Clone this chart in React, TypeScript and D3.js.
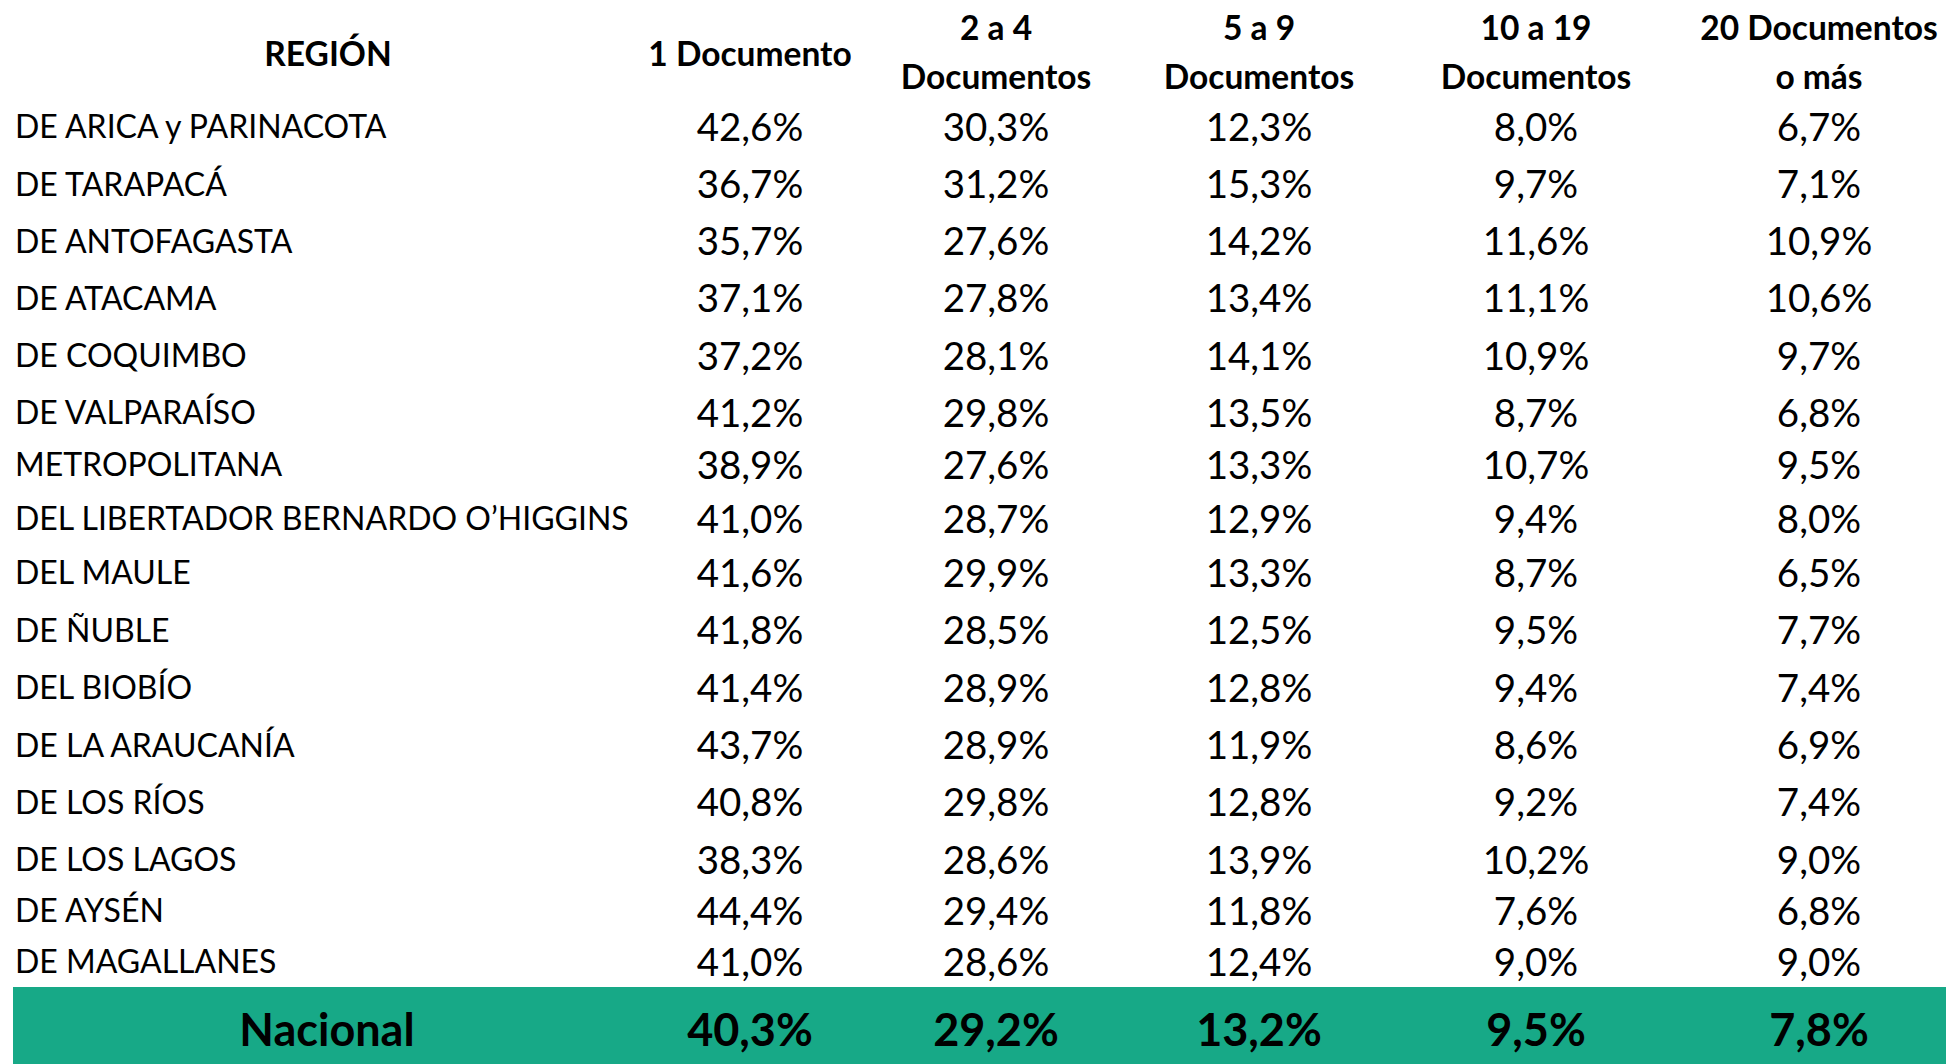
import React from "react";
import * as d3 from "d3";

const regions = [
  "DE ARICA y PARINACOTA",
  "DE TARAPACÁ",
  "DE ANTOFAGASTA",
  "DE ATACAMA",
  "DE COQUIMBO",
  "DE VALPARAÍSO",
  "METROPOLITANA",
  "DEL LIBERTADOR BERNARDO O’HIGGINS",
  "DEL MAULE",
  "DE ÑUBLE",
  "DEL BIOBÍO",
  "DE LA ARAUCANÍA",
  "DE LOS RÍOS",
  "DE LOS LAGOS",
  "DE AYSÉN",
  "DE MAGALLANES",
];

const columnHeaders = [
  ["1 Documento"],
  ["2 a 4", "Documentos"],
  ["5 a 9", "Documentos"],
  ["10 a 19", "Documentos"],
  ["20 Documentos", "o más"],
];

const doc1 = [42.6, 36.7, 35.7, 37.1, 37.2, 41.2, 38.9, 41.0, 41.6, 41.8, 41.4, 43.7, 40.8, 38.3, 44.4, 41.0];
const doc2to4 = [30.3, 31.2, 27.6, 27.8, 28.1, 29.8, 27.6, 28.7, 29.9, 28.5, 28.9, 28.9, 29.8, 28.6, 29.4, 28.6];
const doc5to9 = [12.3, 15.3, 14.2, 13.4, 14.1, 13.5, 13.3, 12.9, 13.3, 12.5, 12.8, 11.9, 12.8, 13.9, 11.8, 12.4];
const doc10to19 = [8.0, 9.7, 11.6, 11.1, 10.9, 8.7, 10.7, 9.4, 8.7, 9.5, 9.4, 8.6, 9.2, 10.2, 7.6, 9.0];
const doc20plus = [6.7, 7.1, 10.9, 10.6, 9.7, 6.8, 9.5, 8.0, 6.5, 7.7, 7.4, 6.9, 7.4, 9.0, 6.8, 9.0];
const nacional = [40.3, 29.2, 13.2, 9.5, 7.8];

const regionHeader = "REGIÓN";
const nacionalLabel = "Nacional";

const series = [doc1, doc2to4, doc5to9, doc10to19, doc20plus];

const W = 1946;
const H = 1064;
const FONT = "Lato, 'Open Sans', sans-serif";
const GREEN = "#17a987";

const locale = d3.formatLocale({ decimal: ",", thousands: ".", grouping: [3], currency: ["", ""] });
const fmt = (v: number) => locale.format(".1f")(v) + "%";

export default function App() {
  const colIdx = d3.range(columnHeaders.length);
  const x = d3.scaleOrdinal<number, number>().domain(colIdx).range([750, 996, 1259, 1536, 1819]);
  // spreadsheet rows have slightly uneven heights: piecewise-linear row index -> row centre
  const rowY = d3.scaleLinear().domain([0, 5, 6, 8, 13, 15]).range([127, 413, 465, 573, 860, 962]);

  const nameSize = 32;
  const valSize = 38.5;
  const headSize = 33.5;
  const natSize = 45;
  const cap = 0.717;

  return (
    <svg
      width={W}
      height={H}
      style={{ position: "absolute", left: 0, top: 0, display: "block", background: "#fff" }}
      fontFamily={FONT}
    >
      {/* header */}
      <text x={328} y={66} textAnchor="middle" fontWeight={700} fontSize={headSize} fill="#000">
        {regionHeader}
      </text>
      {columnHeaders.map((lines, i) => (
        <text key={i} x={x(i)} textAnchor="middle" fontWeight={700} fontSize={headSize} fill="#000">
          {lines.length === 1 ? (
            <tspan x={x(i)} y={66}>{lines[0]}</tspan>
          ) : (
            lines.map((l, j) => (
              <tspan key={j} x={x(i)} y={40 + j * 49}>
                {l}
              </tspan>
            ))
          )}
        </text>
      ))}

      {/* rows */}
      {regions.map((r, ri) => {
        const cy = rowY(ri);
        return (
          <g key={r}>
            <text x={15} y={cy + (nameSize * cap) / 2} fontSize={nameSize} fill="#000">
              {r}
            </text>
            {series.map((s, ci) => (
              <text
                key={ci}
                x={x(ci)}
                y={cy + (valSize * cap) / 2}
                textAnchor="middle"
                fontSize={valSize}
                fill="#000"
              >
                {fmt(s[ri])}
              </text>
            ))}
          </g>
        );
      })}

      {/* national row */}
      <rect x={13} y={987} width={W - 13} height={H - 987} fill={GREEN} />
      <text x={327} y={1030 + (natSize * cap) / 2} textAnchor="middle" fontWeight={700} fontSize={natSize} fill="#000">
        {nacionalLabel}
      </text>
      {nacional.map((v, ci) => (
        <text
          key={ci}
          x={x(ci)}
          y={1030 + (natSize * cap) / 2}
          textAnchor="middle"
          fontWeight={700}
          fontSize={natSize}
          fill="#000"
        >
          {fmt(v)}
        </text>
      ))}
    </svg>
  );
}
